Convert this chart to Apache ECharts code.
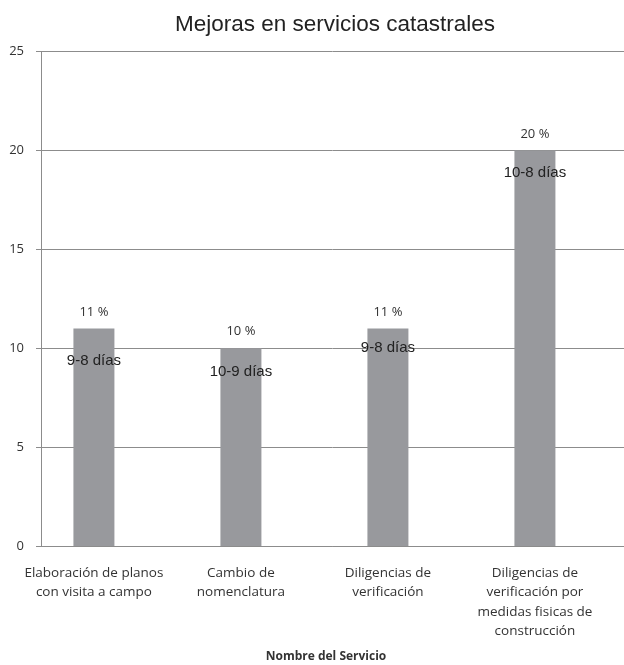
<!DOCTYPE html>
<html>
<head>
<meta charset="utf-8">
<title>Mejoras en servicios catastrales</title>
<script src="https://cdn.jsdelivr.net/npm/echarts@6/dist/echarts.min.js"></script>
<style>
  html, body { margin: 0; padding: 0; background: #ffffff; }
  #chart { width: 624px; height: 665px; }
</style>
</head>
<body>
<div id="chart"></div>
<script>
// Servicios y mejoras (porcentaje) con el cambio de tiempo en días
const categories = [
  'Elaboración de planos\ncon visita a campo',
  'Cambio de\nnomenclatura',
  'Diligencias de\nverificación',
  'Diligencias de\nverificación por\nmedidas fisicas de\nconstrucción'
];
const improvementPct = [11, 10, 11, 20];
const dayRanges = ['9-8 días', '10-9 días', '9-8 días', '10-8 días'];
const yTicks = [0, 5, 10, 15, 20, 25];

// vertical nudge of the day labels inside each bar
const dayLabelDrop = [19.5, 11.5, 6.5, 9.5];

const catIndex = categories.map((_, i) => i);
const barData = improvementPct.map((v, i) => [i, v]);

const chart = echarts.init(document.getElementById('chart'));
const axisGray = '#8c8c8c';
const textDark = '#333333';

chart.setOption({
  animation: false,
  backgroundColor: '#ffffff',
  title: {
    text: 'Mejoras en servicios catastrales',
    left: 170,
    top: 8,
    textStyle: {
      fontFamily: 'Liberation Sans',
      fontSize: 22.5,
      fontWeight: 'normal',
      color: '#222222'
    }
  },
  grid: { left: 41, right: 0, top: 51.5, bottom: 119, outerBoundsMode: 'none' },
  xAxis: {
    type: 'value',
    min: -0.36,
    max: 3.606,
    name: 'Nombre del Servicio',
    nameLocation: 'middle',
    nameGap: 105,
    nameTextStyle: {
      fontFamily: 'Open Sans',
      fontSize: 12,
      fontWeight: 'bold',
      color: textDark,
      padding: [0, 13, 0, 0]
    },
    axisLine: { show: true, lineStyle: { color: axisGray, width: 1 } },
    axisTick: { show: false },
    splitLine: { show: false },
    axisLabel: {
      customValues: catIndex,
      formatter: v => categories[Math.round(v)],
      fontFamily: 'Open Sans',
      fontSize: 13.5,
      lineHeight: 19.5,
      color: textDark,
      margin: 17,
      align: 'center'
    }
  },
  yAxis: {
    type: 'value',
    min: yTicks[0],
    max: yTicks[yTicks.length - 1],
    interval: 5,
    axisLine: { show: true, onZero: false, lineStyle: { color: axisGray, width: 1 } },
    axisTick: { show: true, length: 5, lineStyle: { color: axisGray } },
    splitLine: { show: true, lineStyle: { color: axisGray, width: 1 } },
    axisLabel: {
      fontFamily: 'Open Sans',
      fontSize: 13,
      color: textDark,
      margin: 17
    }
  },
  series: [
    {
      type: 'bar',
      data: barData,
      barWidth: 41,
      itemStyle: { color: '#98999d' },
      label: {
        show: true,
        position: 'top',
        distance: 10,
        formatter: p => p.value[1] + ' %',
        fontFamily: 'Open Sans',
        fontSize: 13,
        color: textDark
      },
      z: 2
    },
    {
      type: 'bar',
      data: barData.map((d, i) => ({
        value: d,
        label: { offset: [0, dayLabelDrop[i]] }
      })),
      barWidth: 41,
      barGap: '-100%',
      itemStyle: { color: 'rgba(0,0,0,0)' },
      label: {
        show: true,
        position: 'insideTop',
        distance: 5,
        formatter: p => dayRanges[p.dataIndex],
        fontFamily: 'Liberation Sans',
        fontSize: 15,
        color: '#222222'
      },
      z: 3
    }
  ]
});
</script>
</body>
</html>
